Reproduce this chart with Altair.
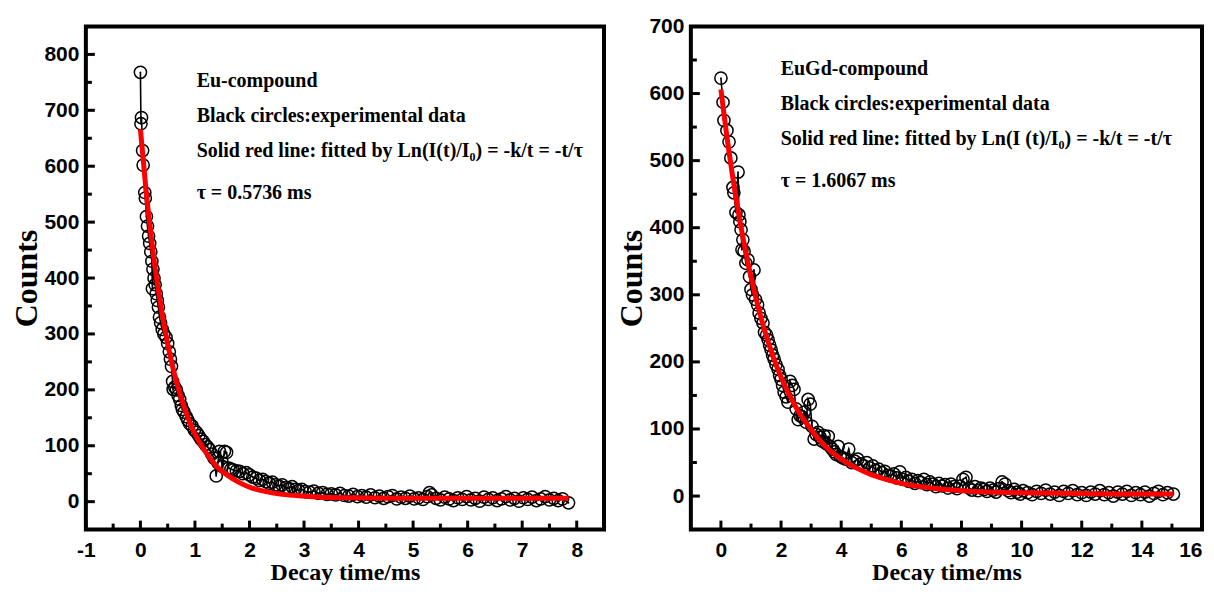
import altair as alt
import pandas as pd

# ---------------- Left panel: Eu-compound ----------------
eu_time = [0.00, 0.01, 0.02, 0.04, 0.05, 0.08, 0.09, 0.11, 0.13, 0.15, 0.17, 0.19, 0.21, 0.22, 0.23,
           0.25, 0.27, 0.29, 0.31, 0.33, 0.35, 0.37, 0.40, 0.43, 0.47, 0.50, 0.53, 0.55, 0.57, 0.59,
           0.60, 0.63, 0.66, 0.69, 0.72, 0.75, 0.77, 0.80, 0.84, 0.87, 0.90, 0.95, 0.99, 1.03, 1.07,
           1.11, 1.15, 1.19, 1.23, 1.27, 1.31, 1.35, 1.39, 1.42, 1.45, 1.50, 1.54, 1.58, 1.62, 1.66,
           1.70, 1.76, 1.82, 1.88, 1.94, 2.00, 2.06, 2.12, 2.18, 2.24, 2.30, 2.36, 2.42, 2.48, 2.54,
           2.60, 2.66, 2.72, 2.78, 2.84, 2.90, 2.96, 3.02, 3.10, 3.18, 3.26, 3.34, 3.42, 3.50, 3.58,
           3.66, 3.74, 3.82, 3.90, 3.98, 4.06, 4.14, 4.22, 4.30, 4.38, 4.46, 4.54, 4.62, 4.70, 4.78,
           4.86, 4.94, 5.02, 5.10, 5.18, 5.26, 5.30, 5.34, 5.42, 5.50, 5.58, 5.66, 5.74, 5.82, 5.90,
           5.98, 6.06, 6.14, 6.22, 6.30, 6.38, 6.46, 6.54, 6.62, 6.70, 6.78, 6.86, 6.94, 7.02, 7.10,
           7.18, 7.26, 7.34, 7.42, 7.50, 7.58, 7.66, 7.74, 7.85]
eu_counts = [768, 676, 687, 628, 602, 553, 543, 510, 493, 475, 462, 447, 430, 381, 416,
             400, 388, 372, 360, 348, 330, 320, 308, 300, 294, 283, 268, 255, 242, 215,
             201, 205, 200, 190, 183, 172, 165, 160, 152, 146, 140, 135, 128, 124, 118,
             112, 108, 102, 98, 93, 85, 78, 46, 70, 90, 63, 90, 88, 60, 58,
             57, 55, 54, 50, 52, 48, 44, 42, 38, 40, 36, 33, 35, 30, 28,
             30, 25, 24, 27, 22, 20, 22, 18, 17, 19, 15, 16, 13, 14, 12,
             15, 11, 10, 13, 9, 11, 8, 12, 7, 10, 6, 9, 11, 5, 8,
             6, 10, 5, 7, 4, 9, 16, 12, 6, 3, 8, 5, 2, 7, 4,
             9, 3, 6, 1, 8, 4, 7, 2, 5, 9, 3, 6, 1, 7, 4,
             8, 2, 5, 9, 3, 6, 2, 5, -2]
eu_fit_time = [0.0, 0.1, 0.2, 0.3, 0.4, 0.5, 0.6, 0.7, 0.8, 0.9, 1.0, 1.2, 1.4, 1.6, 1.8, 2.0,
               2.3, 2.6, 3.0, 3.5, 4.0, 5.0, 6.0, 7.0, 7.85]
eu_fit_counts = [666, 560, 472, 397, 335, 282, 238, 201, 170, 143, 121, 88, 63, 47, 35, 26,
                 18, 13, 10, 7.5, 7, 6, 6, 6, 6]
eu_x_labels = [-1, 0, 1, 2, 3, 4, 5, 6, 7, 8]
eu_x_minor = [-0.5, 0.5, 1.5, 2.5, 3.5, 4.5, 5.5, 6.5, 7.5]
eu_y_labels = [0, 100, 200, 300, 400, 500, 600, 700, 800]
eu_y_minor = [50, 150, 250, 350, 450, 550, 650, 750]
eu_notes = ["Eu-compound",
            "Black circles:experimental data",
            "Solid red line: fitted by Ln(I(t)/I\u2080) = -k/t = -t/\u03c4",
            "\u03c4 = 0.5736 ms"]

# ---------------- Right panel: EuGd-compound ----------------
gd_time = [0.00, 0.07, 0.10, 0.20, 0.27, 0.33, 0.40, 0.43, 0.50, 0.57, 0.60, 0.63, 0.67, 0.70, 0.73,
           0.77, 0.83, 0.90, 0.95, 1.00, 1.05, 1.10, 1.15, 1.22, 1.27, 1.33, 1.40, 1.45, 1.52, 1.57,
           1.62, 1.67, 1.72, 1.77, 1.83, 1.90, 1.95, 2.00, 2.05, 2.10, 2.17, 2.23, 2.30, 2.37, 2.43,
           2.50, 2.57, 2.63, 2.70, 2.77, 2.83, 2.90, 2.97, 3.03, 3.10, 3.17, 3.23, 3.30, 3.37, 3.43,
           3.50, 3.57, 3.63, 3.70, 3.77, 3.83, 3.90, 3.97, 4.05, 4.15, 4.25, 4.35, 4.45, 4.55, 4.65,
           4.75, 4.85, 4.95, 5.05, 5.15, 5.25, 5.35, 5.45, 5.55, 5.65, 5.75, 5.85, 5.95, 6.05, 6.15,
           6.25, 6.35, 6.45, 6.55, 6.65, 6.75, 6.85, 6.95, 7.05, 7.15, 7.25, 7.35, 7.45, 7.55, 7.65,
           7.75, 7.85, 7.95, 8.05, 8.15, 8.25, 8.35, 8.45, 8.55, 8.65, 8.75, 8.85, 8.95, 9.05, 9.15,
           9.25, 9.35, 9.45, 9.55, 9.65, 9.75, 9.85, 9.95, 10.05, 10.20, 10.35, 10.50, 10.65, 10.80, 10.95,
           11.10, 11.25, 11.40, 11.55, 11.70, 11.85, 12.00, 12.15, 12.30, 12.45, 12.60, 12.75, 12.90, 13.05, 13.20,
           13.35, 13.50, 13.65, 13.80, 13.95, 14.10, 14.25, 14.40, 14.55, 14.70, 14.85, 15.05]
gd_counts = [623, 587, 560, 545, 528, 504, 460, 452, 423, 483, 419, 409, 397, 367, 382,
             365, 347, 352, 327, 308, 300, 337, 293, 285, 273, 265, 258, 244, 240, 233,
             225, 218, 210, 204, 196, 189, 180, 174, 165, 155, 148, 140, 171, 165, 159,
             130, 114, 120, 118, 125, 110, 144, 137, 104, 85, 92, 95, 88, 82, 90,
             78, 89, 74, 70, 66, 62, 74, 59, 57, 55, 70, 50, 52, 55, 48,
             45, 50, 42, 45, 38, 40, 35, 37, 31, 30, 33, 27, 36, 25, 28,
             22, 25, 19, 23, 20, 25, 17, 21, 18, 14, 19, 15, 17, 12, 18,
             14, 11, 15, 25, 28, 12, 9, 14, 8, 12, 10, 7, 12, 9, 6,
             11, 21, 18, 8, 5, 10, 6, 3, 8, 5, 2, 7, 4, 9, 3,
             6, 1, 7, 4, 8, 2, 5, 1, 6, 3, 8, 2, 5, 0, 6,
             3, 7, 1, 5, 2, 6, 0, 4, 7, 2, 5, 3]
gd_fit_time = [0.0, 0.25, 0.5, 0.75, 1.0, 1.25, 1.5, 1.75, 2.0, 2.5, 3.0, 3.5, 4.0, 4.5, 5.0,
               5.5, 6.0, 7.0, 8.0, 9.0, 10.0, 12.0, 14.0, 15.05]
gd_fit_counts = [606, 519, 445, 381, 327, 280, 240, 206, 177, 132, 99, 73, 55, 42, 32,
                 25, 19, 12, 8, 6, 5, 4, 3, 3]
gd_x_labels = [0, 2, 4, 6, 8, 10, 12, 14, 16]
gd_x_minor = [1, 3, 5, 7, 9, 11, 13, 15]
gd_y_labels = [0, 100, 200, 300, 400, 500, 600, 700]
gd_y_minor = [50, 150, 250, 350, 450, 550, 650]
gd_notes = ["EuGd-compound",
            "Black circles:experimental data",
            "Solid red line: fitted by Ln(I (t)/I\u2080) = -k/t = -t/\u03c4",
            "\u03c4 = 1.6067 ms"]

SERIF = "Liberation Serif"
H = 504


def panel(t, c, ft, fc, xdom, ydom, xlab, xmin, ylab, ymin, notes, width,
          note_x, note_y, flush):
    def X(field):
        return alt.X(f"{field}:Q", title="Decay time/ms",
                     scale=alt.Scale(domain=xdom, nice=False, zero=False),
                     axis=alt.Axis(values=xlab, labelExpr="datum.value + ''",
                                   labelFlush=flush))

    def Y(field):
        return alt.Y(f"{field}:Q", title="Counts",
                     scale=alt.Scale(domain=ydom, nice=False, zero=False),
                     axis=alt.Axis(values=ylab, labelExpr="datum.value + ''"))

    data = pd.DataFrame({"t": t, "v": c, "i": list(range(len(t)))})
    fit = pd.DataFrame({"t": ft, "v": fc})

    conn = alt.Chart(data).mark_line(color="black", strokeWidth=1.6).encode(
        x=X("t"), y=Y("v"), order="i:Q")
    pts = alt.Chart(data).mark_point(shape="circle", size=150, filled=False,
                                     stroke="black", strokeWidth=1.5, opacity=1).encode(
        x=X("t"), y=Y("v"))
    dots = alt.Chart(data).mark_point(shape="circle", size=3, filled=True,
                                      color="black", opacity=1).encode(x=X("t"), y=Y("v"))
    red = alt.Chart(fit).mark_line(color="#ff0000", strokeWidth=5,
                                   interpolate="monotone").encode(x=X("t"), y=Y("v"))

    xmaj = alt.Chart(pd.DataFrame({"t": xlab})).mark_rule(color="black", strokeWidth=3).encode(
        x=X("t"), y=alt.value(H), y2=alt.value(H - 9))
    xmn = alt.Chart(pd.DataFrame({"t": xmin})).mark_rule(color="black", strokeWidth=3).encode(
        x=X("t"), y=alt.value(H), y2=alt.value(H - 6))
    ymaj = alt.Chart(pd.DataFrame({"v": ylab})).mark_rule(color="black", strokeWidth=3).encode(
        y=Y("v"), x=alt.value(0), x2=alt.value(9))
    ymn = alt.Chart(pd.DataFrame({"v": ymin})).mark_rule(color="black", strokeWidth=3).encode(
        y=Y("v"), x=alt.value(0), x2=alt.value(6))

    layers = [conn, pts, dots, red, xmaj, xmn, ymaj, ymn]
    for k, note in enumerate(notes):
        layers.append(
            alt.Chart(pd.DataFrame({"note": [note]})).mark_text(
                align="left", baseline="alphabetic", font=SERIF, fontSize=20,
                fontWeight="bold", color="black").encode(
                text="note:N", x=alt.value(note_x), y=alt.value(note_y[k]))
        )
    return alt.layer(*layers).properties(width=width, height=H)


left = panel(eu_time, eu_counts, eu_fit_time, eu_fit_counts, [-1, 8.5], [-50, 850],
             eu_x_labels, eu_x_minor, eu_y_labels, eu_y_minor, eu_notes, 519,
             111, [61, 96, 131, 173], False)
right = panel(gd_time, gd_counts, gd_fit_time, gd_fit_counts, [-1, 16], [-50, 700],
              gd_x_labels, gd_x_minor, gd_y_labels, gd_y_minor, gd_notes, 512,
              90, [49, 84, 119, 161], True)

chart = alt.hconcat(left, right, spacing=7).properties(
    padding={"left": 0, "top": 5, "right": 0, "bottom": -1}
).configure_view(
    stroke="black", strokeWidth=4
).configure_axis(
    grid=False, domain=False, ticks=False,
    labelFont="Liberation Sans",
    labelFontSize=21, labelFontWeight="bold", labelColor="black",
    titleFont=SERIF, titleFontWeight="bold", titleColor="black",
).configure_axisX(
    titleFontSize=24, labelPadding=10, titlePadding=0
).configure_axisY(
    titleFontSize=32, labelPadding=7, titlePadding=0
)

chart.save("out.html", embed_options={"renderer": "svg", "actions": False})
